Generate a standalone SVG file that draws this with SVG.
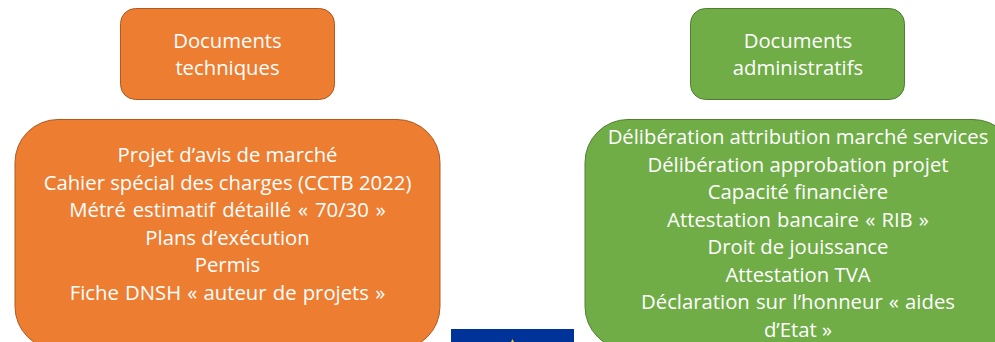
<svg xmlns="http://www.w3.org/2000/svg" width="995" height="342" viewBox="0 0 995 342">
<style>
text{font-family:"Open Sans","Noto Sans","DejaVu Sans",sans-serif;fill:#fff;font-size:20.3px;text-anchor:middle}
.q{word-spacing:.9px}
.o{fill:#ed7d31;stroke:#ae5a21;stroke-width:1}
.g{fill:#70ad47;stroke:#507e32;stroke-width:1}
</style>
<rect width="995" height="342" fill="#fff"/>
<g id="node-tech-title"><rect class="o" x="120.500" y="8.500" width="214" height="91" rx="15"/>
<text x="227.500" y="47.500">Documents</text><text x="227.500" y="75">techniques</text></g>
<g id="node-tech-list"><rect class="o" x="15" y="119.500" width="425" height="230" rx="43"/>
<text x="227.500" y="162">Projet d’avis de marché</text>
<text x="227.500" y="189.500">Cahier spécial des charges (CCTB 2022)</text>
<text x="227.500" y="217" style="word-spacing:1.6px">Métré estimatif détaillé « 70/30 »</text>
<text x="227.500" y="244.500">Plans d’exécution</text>
<text x="227.500" y="272">Permis</text>
<text class="q" x="227.500" y="299.500">Fiche DNSH « auteur de projets »</text></g>
<g id="node-admin-title"><rect class="g" x="690.500" y="8.500" width="214" height="91" rx="15"/>
<text x="798" y="47.500">Documents</text><text x="798" y="75">administratifs</text></g>
<g id="node-admin-list"><rect class="g" x="585" y="119.500" width="431" height="230" rx="43"/>
<text x="798" y="144">Délibération attribution marché services</text>
<text x="798" y="171.500">Délibération approbation projet</text>
<text x="798" y="199">Capacité financière</text>
<text class="q" x="798" y="226.500">Attestation bancaire « RIB »</text>
<text x="798" y="254">Droit de jouissance</text>
<text x="798" y="281.500">Attestation TVA</text>
<text class="q" x="798" y="309">Déclaration sur l’honneur « aides</text>
<text x="798" y="336.500">d’Etat »</text></g>
<g id="flag"><rect x="451" y="329" width="123" height="13" fill="#003399"/><polygon points="512.500,339 514,342 511,342" fill="#ffcc00"/></g>
<g id="connectors"/>
</svg>
